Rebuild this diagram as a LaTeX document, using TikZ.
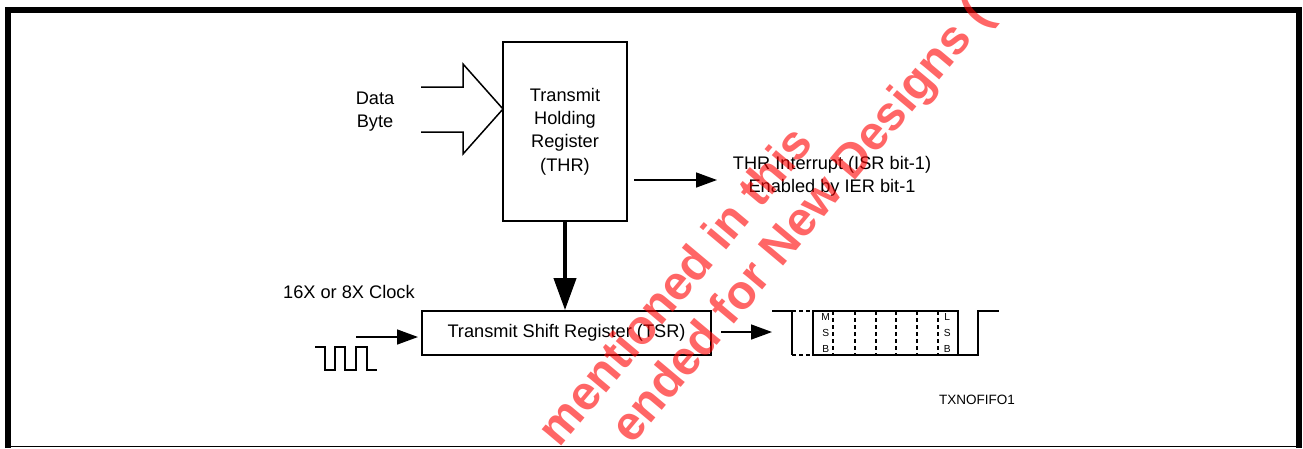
\documentclass[tikz,border=0pt]{standalone}
\usepackage{fontspec}
\setmainfont{Liberation Sans}
\usetikzlibrary{arrows.meta}
\begin{document}
\begin{tikzpicture}[x=1pt,y=-1pt,
  box/.style={draw, line width=1.8pt, inner sep=0pt, align=center, font=\fontsize{18.2}{23.3}\selectfont},
  lbl/.style={inner sep=0pt, font=\fontsize{18.2}{23.3}\selectfont},
  thinln/.style={line width=1.5pt},
  dashln/.style={line width=1.2pt, dash pattern=on 4pt off 3pt},
  arr/.style={line width=1.5pt, -{Triangle[length=21pt,width=15pt]}},
  bigarr/.style={line width=4pt, -{Triangle[length=32pt,width=22pt]}},
  small/.style={inner sep=0pt, align=center, font=\fontsize{10.2}{15.8}\selectfont},
  wm/.style={rotate=50, anchor=base west, inner sep=0pt, text=red, text opacity=0.6, font=\fontsize{48}{52}\selectfont\bfseries},
]
\useasboundingbox (0,0) rectangle (1303,448);
% frame
\draw[line width=6pt, line join=miter] (8,448) -- (8,10) -- (1299,10) -- (1299,448);
\draw[line width=1.5pt] (5,446.6) -- (1299,446.6);

% registers
\node[box, minimum width=124pt, minimum height=179pt] (thr) at (565,131.5) {Transmit\\Holding\\Register\\(THR)};
\node[box, minimum width=289pt, minimum height=44pt] (tsr) at (566.5,333) {Transmit Shift Register (TSR)};

% data byte input
\node[lbl, align=center] (data) at (375,111.8) {Data\\Byte};
\draw[thinln, line join=miter] (421,87) -- (463,87) -- (463,64) -- (503,109) -- (463,154) -- (463,132) -- (421,132);

% interrupt
\node[lbl, align=center] (irq) at (832,176.5) {THR Interrupt (ISR bit-1)\\Enabled by IER bit-1};
\coordinate (irqA) at (634,180);
\coordinate (irqB) at (717,180);
\draw[arr] (irqA) -- (irqB);

% THR -> TSR
\draw[bigarr] (thr.south) -- (tsr.north -| thr.south);

% clock
\node[lbl, anchor=base west] (clk) at (283,298) {16X or 8X Clock};
\coordinate (clkA) at (356,337);
\coordinate (clkB) at (418,337);
\draw[arr] (clkA) -- (clkB);
\draw[thinln] (315,347) -- (325,347) -- (325,370) -- (335,370) -- (335,347) -- (345,347) -- (345,370) -- (356,370) -- (356,347) -- (367,347) -- (367,370) -- (377,370);

% TSR -> serial out
\coordinate (txA) at (721,332);
\coordinate (txB) at (772,332);
\draw[arr] (txA) -- (txB);

% serial waveform
\draw[thinln] (772,311) -- (792,311) -- (792,355);
\draw[dashln] (792,311) -- (813,311);
\draw[dashln] (792,355) -- (813,355);
\draw[thinln] (813,311) rectangle (958,355);
\draw[thinln] (958,355) -- (978,355) -- (978,311) -- (999,311);
\foreach \xx in {833,855,876,896,917,938}
  \draw[dashln] (\xx,311) -- (\xx,355);
\node[small] (msb) at (825.7,332.9) {M\\S\\B};
\node[small] (lsb) at (947.3,332.9) {L\\S\\B};

% figure id
\node[inner sep=0pt, anchor=base, font=\fontsize{13.5}{16}\selectfont] (fig) at (977,404) {TXNOFIFO1};

% watermark
\begin{scope}
\clip (0,0) rectangle (1303,448);
\node[wm] (wm1) at (559.6,448.6) {mentioned in this};
\node[wm] (wm2) at (632.3,446) {ended for New Designs (};
\end{scope}
\end{tikzpicture}
\end{document}
